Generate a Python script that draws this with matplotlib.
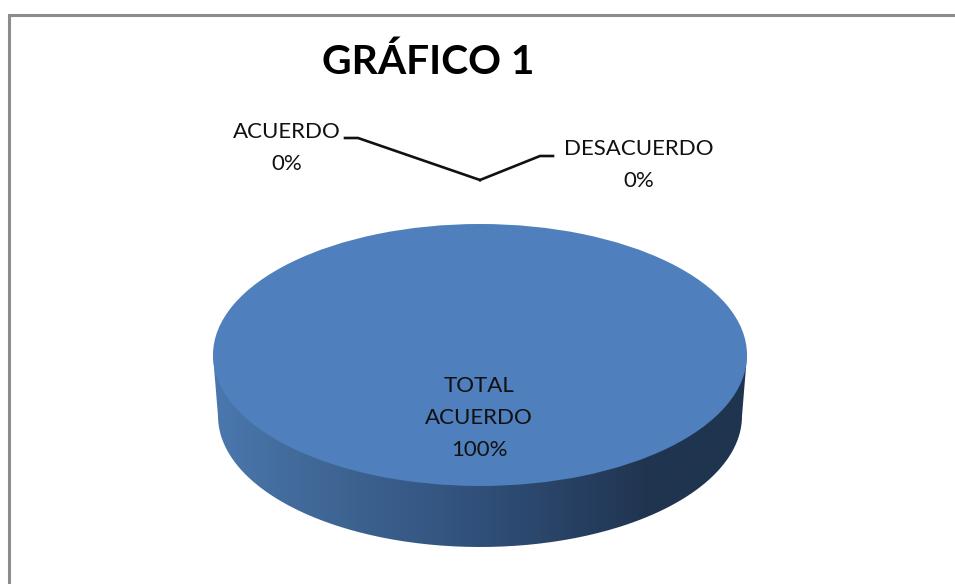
import matplotlib
matplotlib.use('Agg')
import matplotlib.pyplot as plt
import numpy as np
from matplotlib.colors import LinearSegmentedColormap
from matplotlib.patches import PathPatch
from matplotlib.path import Path

plt.rcParams['font.family'] = ['Lato', 'DejaVu Sans']

categories = ['TOTAL\nACUERDO', 'ACUERDO', 'DESACUERDO']
values = [100, 0, 0]
title = 'GRÁFICO 1'

W, H = 955, 584
cx, cy, rx, ry = 480, 355, 267, 131
depth, rx_low = 61, 262
pie_color = '#4f7fbc'
text_color = '#111111'


def px_axes(fig, left, top, width, height):
    return fig.add_axes([left / W, 1 - (top + height) / H, width / W, height / H])


fig = plt.figure(figsize=(W / 100, H / 100), dpi=100, facecolor='white')

# pixel layer for frame, side of the pie and leader lines
bg = fig.add_axes([0, 0, 1, 1])
bg.set_xlim(0, W)
bg.set_ylim(H, 0)
bg.axis('off')

# chart border, only top and left are inside the crop
bg.plot([8.5, 8.5, W], [H, 14.5, 14.5], color='#8c8c8c', lw=2.2, solid_joinstyle='miter')

# side of the 3d pie: gradient clipped to the rim shape
t = np.linspace(np.pi, 0, 200)
top_edge = np.column_stack([cx + rx * np.cos(t), cy + ry * np.sin(t) * 0])
low_edge = np.column_stack([cx + rx_low * np.cos(t[::-1]), cy + depth + ry * np.sin(t[::-1])])
rim = np.vstack([top_edge, low_edge, top_edge[:1]])
clip = PathPatch(Path(rim), transform=bg.transData, fc='none', ec='none')
bg.add_patch(clip)
cmap = LinearSegmentedColormap.from_list('rim', [
    (0.0, '#4a78ae'), (0.16, '#426a9a'), (0.5, '#30507a'),
    (0.82, '#20344f'), (1.0, '#1f344f')])
img = bg.imshow(np.linspace(0, 1, 256)[None, :], cmap=cmap, aspect='auto',
                extent=(cx - rx, cx + rx, cy + depth + ry, cy), zorder=1)
img.set_clip_path(clip)
bg.set_xlim(0, W)
bg.set_ylim(H, 0)

# leader lines of the two 0% labels
bg.plot([345, 358, 480], [138, 138, 180], color='#111111', lw=1.9, zorder=2)
bg.plot([553, 540, 480], [156, 156, 180], color='#111111', lw=1.9, zorder=2)

# top face is a real pie squeezed into an elliptical box
ax = px_axes(fig, cx - rx, cy - ry, 2 * rx, 2 * ry)
ax.pie(values, colors=[pie_color, '#c0504d', '#9bbb59'], radius=1, startangle=90,
       counterclock=False)
ax.set_aspect('auto')
ax.set_xlim(-1, 1)
ax.set_ylim(-1, 1)
ax.patch.set_alpha(0)

fig.text(428 / W, 1 - 62 / H, title, fontsize=29.3, fontweight='bold', color='black',
         ha='center', va='center')

label_pos = [(479, 418), (287, 148), (639, 165)]
for cat, val, (x, y) in zip(categories, values, label_pos):
    fig.text(x / W, 1 - y / H, f'{cat}\n{val}%', fontsize=16, color=text_color,
             ha='center', va='center', linespacing=1.74)

fig.savefig('out.png', dpi=100)
